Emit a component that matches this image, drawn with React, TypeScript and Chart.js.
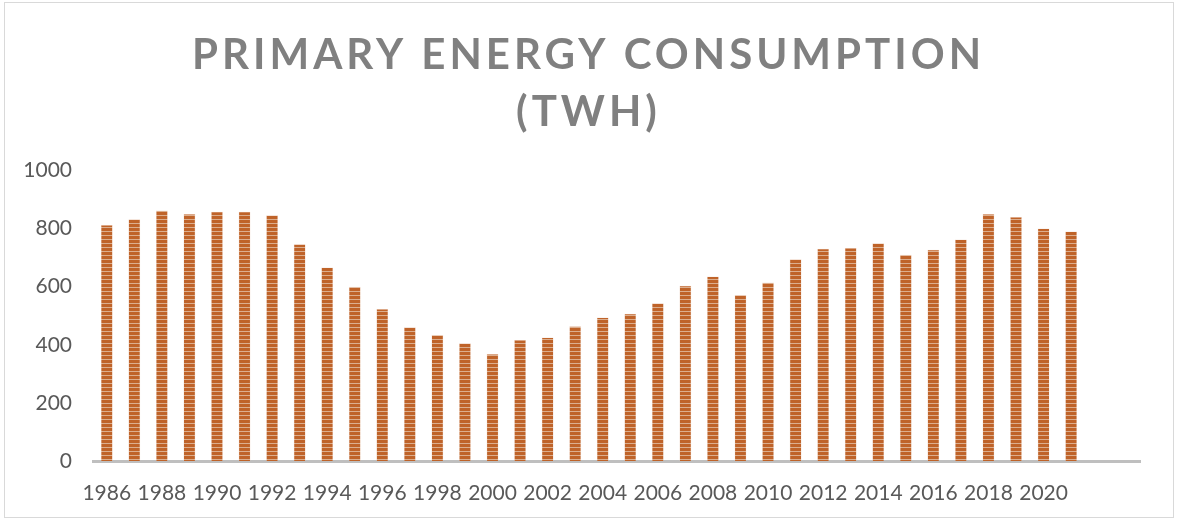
import React, { useEffect, useRef } from "react";
import { Chart, registerables } from "chart.js";

Chart.register(...registerables);

const years: string[] = [
  "1986", "1987", "1988", "1989", "1990", "1991", "1992", "1993", "1994", "1995",
  "1996", "1997", "1998", "1999", "2000", "2001", "2002", "2003", "2004", "2005",
  "2006", "2007", "2008", "2009", "2010", "2011", "2012", "2013", "2014", "2015",
  "2016", "2017", "2018", "2019", "2020", "2021", "", "",
];

const consumption: (number | null)[] = [
  812, 832, 862, 850, 858, 858, 846, 746, 666, 600,
  523, 460, 434, 405, 368, 416, 425, 464, 494, 507,
  543, 603, 635, 571, 614, 694, 730, 733, 749, 710,
  727, 762, 850, 840, 800, 790, null, null,
];

const titleLines: string[] = ["PRIMARY ENERGY CONSUMPTION", "(TWH)"];
const yTicks: number[] = [0, 200, 400, 600, 800, 1000];

function makePattern(): CanvasPattern | string {
  const c = document.createElement("canvas");
  c.width = 4;
  c.height = 4;
  const g = c.getContext("2d");
  if (!g) return "#c0652e";
  g.fillStyle = "#bf6329";
  g.fillRect(0, 0, 4, 4);
  g.fillStyle = "#dcae8e";
  g.fillRect(0, 3, 4, 1);
  return g.createPattern(c, "repeat") || "#c0652e";
}

export default function App() {
  const ref = useRef<HTMLCanvasElement | null>(null);

  useEffect(() => {
    if (!ref.current) return;
    const pattern = makePattern();
    const chart = new Chart(ref.current, {
      type: "bar",
      data: {
        labels: years,
        datasets: [
          {
            label: "Primary energy consumption (TWh)",
            data: consumption,
            backgroundColor: pattern as any,
            borderColor: "rgba(235,205,185,0.7)",
            borderWidth: 0.5,
            barPercentage: 0.43,
            categoryPercentage: 1,
            yAxisID: "y",
          },
        ],
      },
      options: {
        responsive: false,
        animation: false,
        layout: { padding: { left: 0, right: 0, top: 27, bottom: 0 } },
        plugins: {
          legend: { display: false },
          tooltip: { enabled: false },
          title: {
            display: true,
            text: titleLines,
            color: "#808080",
            font: { family: "Lato", size: 42, weight: "bold", lineHeight: 1.35 },
            padding: { top: 0, bottom: 30 },
          },
        },
        scales: {
          x: {
            grid: { display: false, drawTicks: false },
            border: { display: true, color: "#bfbfbf", width: 3 },
            afterFit: (s: any) => {
              s.height = 58;
            },
            ticks: {
              autoSkip: false,
              maxRotation: 0,
              minRotation: 0,
              padding: 20,
              color: "#595959",
              font: { family: "Lato", size: 21 },
              callback: function (this: any, _v: any, i: number) {
                const l = years[i];
                return i % 2 === 0 && l ? l : "";
              },
            },
          },
          y: {
            min: 0,
            max: 1000,
            afterBuildTicks: (s: any) => {
              s.ticks = yTicks.map((v) => ({ value: v }));
            },
            afterFit: (s: any) => {
              s.width = 93;
            },
            grid: { display: false, drawTicks: false },
            border: { display: false },
            ticks: {
              padding: 21,
              color: "#595959",
              font: { family: "Lato", size: 21 },
              callback: (v: any) => String(v),
            },
          },
          yRight: {
            position: "right",
            min: 0,
            max: 1000,
            afterFit: (s: any) => {
              s.width = 37;
            },
            grid: { display: false, drawTicks: false },
            border: { display: false },
            ticks: { display: false },
          },
        },
      },
      plugins: [
        {
          id: "titleSpacing",
          afterInit(c: any) {
            const tb = c.titleBlock;
            if (tb && !tb.__wrapped) {
              const orig = tb.draw.bind(tb);
              tb.draw = () => {
                const ctx = c.ctx as any;
                const prev = ctx.letterSpacing;
                ctx.letterSpacing = "4px";
                orig();
                ctx.letterSpacing = prev || "0px";
              };
              tb.__wrapped = true;
            }
          },
        },
      ],
    });
    return () => chart.destroy();
  }, []);

  return (
    <div
      style={{
        position: "fixed",
        left: 0,
        top: 0,
        width: 1177,
        height: 519,
        background: "#ffffff",
      }}
    >
      <div
        style={{
          position: "absolute",
          left: 4,
          top: 2,
          width: 1168,
          height: 514,
          border: "1px solid #d9d9d9",
        }}
      />
      <canvas
        ref={ref}
        width={1177}
        height={519}
        style={{ position: "absolute", left: 0, top: 0 }}
      />
    </div>
  );
}
